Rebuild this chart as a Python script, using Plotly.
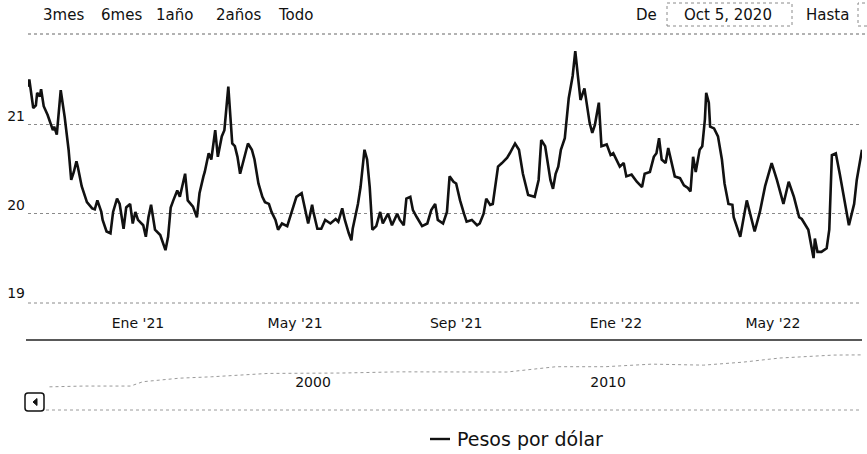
import plotly.graph_objects as go

W, H = 867, 454
FONT = "DejaVu Sans"

# ---- main series: Pesos por dólar ----
dates = [
    "2020-10-09", "2020-10-10", "2020-10-13", "2020-10-15", "2020-10-16", "2020-10-18", "2020-10-19",
    "2020-10-21", "2020-10-24", "2020-10-28", "2020-10-29", "2020-10-31", "2020-11-03", "2020-11-06",
    "2020-11-09", "2020-11-11", "2020-11-13", "2020-11-15", "2020-11-16", "2020-11-19", "2020-11-23",
    "2020-11-27", "2020-11-29", "2020-12-01", "2020-12-04", "2020-12-05", "2020-12-08", "2020-12-11",
    "2020-12-13", "2020-12-16", "2020-12-18", "2020-12-21", "2020-12-23", "2020-12-26", "2020-12-28",
    "2020-12-30", "2021-01-01", "2021-01-05", "2021-01-07", "2021-01-09", "2021-01-11", "2021-01-14",
    "2021-01-18", "2021-01-22", "2021-01-24", "2021-01-26", "2021-01-28", "2021-01-31", "2021-02-02",
    "2021-02-06", "2021-02-08", "2021-02-12", "2021-02-15", "2021-02-17", "2021-02-20", "2021-02-21",
    "2021-02-24", "2021-02-26", "2021-03-01", "2021-03-03", "2021-03-06", "2021-03-08", "2021-03-11",
    "2021-03-12", "2021-03-14", "2021-03-16", "2021-03-18", "2021-03-20", "2021-03-22", "2021-03-26",
    "2021-03-29", "2021-03-31", "2021-04-03", "2021-04-06", "2021-04-08", "2021-04-11", "2021-04-13",
    "2021-04-16", "2021-04-18", "2021-04-21", "2021-04-25", "2021-04-28", "2021-05-02", "2021-05-06",
    "2021-05-09", "2021-05-11", "2021-05-14", "2021-05-15", "2021-05-18", "2021-05-21", "2021-05-24",
    "2021-05-28", "2021-06-01", "2021-06-03", "2021-06-06", "2021-06-08", "2021-06-11", "2021-06-13",
    "2021-06-14", "2021-06-17", "2021-06-18", "2021-06-20", "2021-06-23", "2021-06-25", "2021-06-27",
    "2021-06-29", "2021-07-02", "2021-07-05", "2021-07-07", "2021-07-11", "2021-07-14", "2021-07-18",
    "2021-07-20", "2021-07-23", "2021-07-25", "2021-07-28", "2021-07-30", "2021-08-02", "2021-08-06",
    "2021-08-10", "2021-08-13", "2021-08-16", "2021-08-18", "2021-08-22", "2021-08-25", "2021-08-27",
    "2021-08-30", "2021-09-01", "2021-09-04", "2021-09-07", "2021-09-09", "2021-09-13", "2021-09-17",
    "2021-09-19", "2021-09-22", "2021-09-24", "2021-09-27", "2021-09-29", "2021-10-03", "2021-10-06",
    "2021-10-10", "2021-10-12", "2021-10-16", "2021-10-19", "2021-10-22", "2021-10-26", "2021-10-31",
    "2021-11-03", "2021-11-05", "2021-11-08", "2021-11-12", "2021-11-14", "2021-11-16", "2021-11-18",
    "2021-11-20", "2021-11-23", "2021-11-26", "2021-11-29", "2021-12-01", "2021-12-03", "2021-12-05",
    "2021-12-08", "2021-12-10", "2021-12-12", "2021-12-14", "2021-12-16", "2021-12-19", "2021-12-21",
    "2021-12-25", "2021-12-28", "2021-12-30", "2022-01-02", "2022-01-04", "2022-01-07", "2022-01-09",
    "2022-01-13", "2022-01-17", "2022-01-21", "2022-01-23", "2022-01-27", "2022-01-30", "2022-02-01",
    "2022-02-03", "2022-02-05", "2022-02-08", "2022-02-10", "2022-02-13", "2022-02-15", "2022-02-19",
    "2022-02-22", "2022-02-25", "2022-02-27", "2022-03-01", "2022-03-03", "2022-03-06", "2022-03-08",
    "2022-03-10", "2022-03-11", "2022-03-13", "2022-03-14", "2022-03-17", "2022-03-20", "2022-03-23",
    "2022-03-25", "2022-03-28", "2022-03-31", "2022-04-01", "2022-04-06", "2022-04-11", "2022-04-17",
    "2022-04-21", "2022-04-25", "2022-04-30", "2022-05-04", "2022-05-09", "2022-05-13", "2022-05-17",
    "2022-05-21", "2022-05-23", "2022-05-28", "2022-06-01", "2022-06-02", "2022-06-04", "2022-06-07",
    "2022-06-11", "2022-06-13", "2022-06-15", "2022-06-18", "2022-06-21", "2022-06-24", "2022-06-26",
    "2022-06-28", "2022-07-02", "2022-07-04", "2022-07-08",
]
pesos = [
    21.43, 21.51, 21.19, 21.22, 21.36, 21.32, 21.40,
    21.21, 21.11, 20.94, 20.98, 20.89, 21.39, 21.09,
    20.72, 20.38, 20.47, 20.59, 20.53, 20.31, 20.13,
    20.06, 20.05, 20.15, 20.02, 19.93, 19.80, 19.78,
    20.02, 20.17, 20.11, 19.83, 20.07, 20.11, 19.89,
    20.02, 19.93, 19.87, 19.74, 19.96, 20.10, 19.82,
    19.76, 19.59, 19.74, 20.07, 20.15, 20.26, 20.19,
    20.45, 20.15, 20.08, 19.96, 20.23, 20.42, 20.47,
    20.68, 20.61, 20.94, 20.64, 20.87, 20.94, 21.43,
    21.25, 20.79, 20.76, 20.64, 20.45, 20.57, 20.79,
    20.72, 20.61, 20.34, 20.19, 20.13, 20.11, 20.02,
    19.93, 19.82, 19.89, 19.86, 20.00, 20.19, 20.23,
    20.04, 19.89, 20.10, 20.02, 19.83, 19.83, 19.93,
    19.89, 19.94, 19.91, 20.06, 19.93, 19.78, 19.70,
    19.83, 20.04, 20.11, 20.30, 20.72, 20.61, 20.30,
    19.82, 19.86, 20.02, 19.89, 20.00, 19.87, 20.00,
    19.93, 19.87, 20.17, 20.19, 20.04, 19.96, 19.86,
    19.89, 20.04, 20.11, 19.93, 19.89, 20.02, 20.42,
    20.36, 20.34, 20.15, 20.00, 19.91, 19.93, 19.87,
    19.89, 20.00, 20.17, 20.10, 20.11, 20.53, 20.57,
    20.63, 20.68, 20.79, 20.72, 20.45, 20.21, 20.19,
    20.38, 20.83, 20.76, 20.38, 20.28, 20.45, 20.53,
    20.72, 20.85, 21.30, 21.55, 21.83, 21.55, 21.28,
    21.41, 21.21, 21.02, 20.91, 21.00, 21.25, 20.76,
    20.78, 20.66, 20.68, 20.59, 20.53, 20.57, 20.42,
    20.44, 20.36, 20.30, 20.45, 20.47, 20.64, 20.68,
    20.85, 20.61, 20.57, 20.74, 20.53, 20.42, 20.40,
    20.32, 20.29, 20.25, 20.64, 20.47, 20.72, 20.76,
    21.06, 21.36, 21.25, 20.98, 20.96, 20.87, 20.61,
    20.34, 20.11, 20.10, 19.96, 19.74, 20.15, 19.80,
    20.02, 20.31, 20.57, 20.38, 20.11, 20.36, 20.19,
    19.96, 19.94, 19.82, 19.50, 19.72, 19.57, 19.57,
    19.61, 19.82, 20.66, 20.68, 20.45, 20.19, 20.04,
    19.87, 20.11, 20.38, 20.72,
]

# ---- navigator series (long history, faint) ----
nav_dates = ["1991-10-01", "1992-12-01", "1994-07-01", "1994-12-01", "1996-03-01", "1997-04-01",
             "1999-03-01", "2001-09-01", "2003-08-01", "2005-01-01", "2007-04-01", "2008-12-01",
             "2010-08-01", "2012-03-01", "2013-12-01", "2015-04-01", "2016-07-01", "2018-05-01",
             "2019-06-01"]
nav_values = [3.2, 3.6, 3.6, 5.8, 7.6, 8.3, 10.0, 10.2, 10.8, 10.8, 10.7, 13.4,
              13.4, 14.7, 14.2, 15.7, 17.8, 19.3, 19.4]

# ---- axes text ----
y_ticks = [19, 20, 21]
x_tick_dates = ["2021-01-01", "2021-05-01", "2021-09-01", "2022-01-01", "2022-05-01"]
x_tick_text = ["Ene '21", "May '21", "Sep '21", "Ene '22", "May '22"]
nav_tick_dates = ["2000-01-01", "2010-01-01"]
nav_tick_text = ["2000", "2010"]
range_buttons = ["3mes", "6mes", "1año", "2años", "Todo"]
series_name = "Pesos por dólar"


def px(x):
    return x / W


def py(y):
    return 1 - y / H


fig = go.Figure()
fig.add_trace(go.Scatter(
    x=dates, y=pesos, mode="lines", name=series_name,
    line=dict(color="#111111", width=2.6), showlegend=False,
    xaxis="x", yaxis="y"))
fig.add_trace(go.Scatter(
    x=nav_dates, y=nav_values, mode="lines", name=series_name,
    line=dict(color="#9a9a9a", width=1, dash="dot"), showlegend=False,
    xaxis="x2", yaxis="y2"))

fig.update_layout(
    width=W, height=H, margin=dict(l=0, r=0, t=0, b=0),
    paper_bgcolor="white", plot_bgcolor="white",
    font=dict(family=FONT, color="#111111", size=14),
    xaxis=dict(
        type="date", domain=[px(28), px(862)], range=["2020-10-09", "2022-07-08"],
        anchor="y", tickmode="array", tickvals=x_tick_dates, ticktext=x_tick_text,
        showgrid=False, zeroline=False, showline=False, ticks="",
        tickfont=dict(size=14, family=FONT, color="#111111"),
        ticklabelstandoff=10, automargin=False, fixedrange=True),
    yaxis=dict(
        domain=[py(303), py(36)], range=[18.995, 22], anchor="x",
        tickmode="array", tickvals=y_ticks, showgrid=True, gridcolor="#8a8a8a",
        griddash="dot", gridwidth=1, zeroline=False, showline=False, ticks="",
        tickfont=dict(size=14, family=FONT, color="#111111"),
        ticklabelshift=-9, ticklabelstandoff=2, automargin=False, fixedrange=True),
    xaxis2=dict(
        type="date", domain=[px(28), px(862)], range=["1991-01-08", "2019-04-15"],
        anchor="free", position=py(372), tickmode="array", tickvals=nav_tick_dates,
        ticktext=nav_tick_text, showgrid=False, zeroline=False, showline=False, ticks="",
        ticklabelshift=20, tickfont=dict(size=14, family=FONT, color="#111111"),
        automargin=False, fixedrange=True),
    yaxis2=dict(
        domain=[py(405), py(345)], range=[-6.0, 24.4], anchor="x2",
        showgrid=False, zeroline=False, showline=False, showticklabels=False,
        ticks="", automargin=False, fixedrange=True),
)

shapes = []
# separator line under the range selector
shapes.append(dict(type="line", xref="paper", yref="paper", x0=px(28), x1=1, y0=py(34), y1=py(34),
                   line=dict(color="#666666", width=1, dash="dot")))
# bottom grid line (19) of the main plot
shapes.append(dict(type="line", xref="paper", yref="paper", x0=px(28), x1=px(862), y0=py(303), y1=py(303),
                   line=dict(color="#8a8a8a", width=1, dash="dot")))
# navigator top outline
shapes.append(dict(type="line", xref="paper", yref="paper", x0=px(26), x1=px(862), y0=py(340), y1=py(340),
                   line=dict(color="#222222", width=1.5)))
# scrollbar track
shapes.append(dict(type="line", xref="paper", yref="paper", x0=px(46), x1=px(860), y0=py(410), y1=py(410),
                   line=dict(color="#9a9a9a", width=1, dash="dot")))
# scrollbar button (rounded square)
bx0, bx1, by0, by1, r = 25, 44, 393, 411, 3
path = (f"M {px(bx0 + r)},{py(by0)} L {px(bx1 - r)},{py(by0)} "
        f"Q {px(bx1)},{py(by0)} {px(bx1)},{py(by0 + r)} L {px(bx1)},{py(by1 - r)} "
        f"Q {px(bx1)},{py(by1)} {px(bx1 - r)},{py(by1)} L {px(bx0 + r)},{py(by1)} "
        f"Q {px(bx0)},{py(by1)} {px(bx0)},{py(by1 - r)} L {px(bx0)},{py(by0 + r)} "
        f"Q {px(bx0)},{py(by0)} {px(bx0 + r)},{py(by0)} Z")
shapes.append(dict(type="path", xref="paper", yref="paper", path=path,
                   line=dict(color="#111111", width=1.5), fillcolor="white"))
tri = f"M {px(37)},{py(398.5)} L {px(33)},{py(402)} L {px(37)},{py(405.5)} Z"
shapes.append(dict(type="path", xref="paper", yref="paper", path=tri,
                   line=dict(color="#111111", width=1), fillcolor="#111111"))
# date input boxes
shapes.append(dict(type="rect", xref="paper", yref="paper", x0=px(667), x1=px(792), y0=py(26), y1=py(3),
                   line=dict(color="#8a8a8a", width=1, dash="dot")))
shapes.append(dict(type="rect", xref="paper", yref="paper", x0=px(858), x1=px(880), y0=py(26), y1=py(3),
                   line=dict(color="#8a8a8a", width=1, dash="dot")))
# legend symbol
shapes.append(dict(type="line", xref="paper", yref="paper", x0=px(430), x1=px(450), y0=py(439), y1=py(439),
                   line=dict(color="#111111", width=2.4)))
fig.update_layout(shapes=shapes)

ann = []
btn_centers = [63, 121.5, 174, 238, 295.5]
for label, cx in zip(range_buttons, btn_centers):
    ann.append(dict(text=label, x=px(cx), y=py(15), xref="paper", yref="paper",
                    xanchor="center", yanchor="middle", showarrow=False,
                    font=dict(size=15, family=FONT, color="#111111")))
ann.append(dict(text="De", x=px(646), y=py(15), xref="paper", yref="paper", xanchor="center",
                yanchor="middle", showarrow=False, font=dict(size=15, family=FONT, color="#111111")))
ann.append(dict(text="Oct 5, 2020", x=px(728), y=py(15), xref="paper", yref="paper", xanchor="center",
                yanchor="middle", showarrow=False, font=dict(size=15, family=FONT, color="#111111")))
ann.append(dict(text="Hasta", x=px(827), y=py(15), xref="paper", yref="paper", xanchor="center",
                yanchor="middle", showarrow=False, font=dict(size=15, family=FONT, color="#111111")))
ann.append(dict(text=series_name, x=px(455), y=py(439), xref="paper", yref="paper", xanchor="left",
                yanchor="middle", showarrow=False, font=dict(size=19, family=FONT, color="#111111")))
fig.update_layout(annotations=ann)

fig.write_html("out.html", config={"displayModeBar": False},
               post_script="document.body.style.margin='0';document.body.style.overflow='hidden';")
